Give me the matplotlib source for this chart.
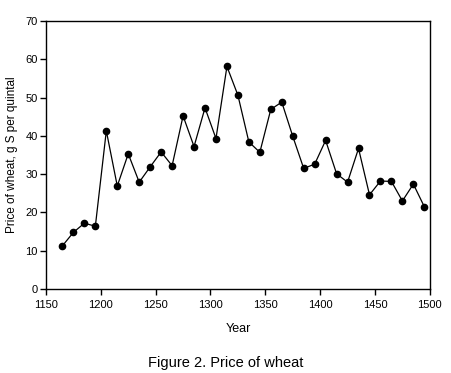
import matplotlib
matplotlib.use("Agg")
import matplotlib.pyplot as plt

# Year midpoints and price of wheat (g S per quintal)
years = [1165, 1175, 1185, 1195, 1205, 1215, 1225, 1235, 1245, 1255,
         1265, 1275, 1285, 1295, 1305, 1315, 1325, 1335, 1345, 1355,
         1365, 1375, 1385, 1395, 1405, 1415, 1425, 1435, 1445, 1455,
         1465, 1475, 1485, 1495]
prices = [11.3, 14.8, 17.2, 16.4, 41.3, 26.9, 35.3, 27.9, 31.9, 35.8,
          32.2, 45.2, 37.2, 47.3, 39.3, 58.1, 50.6, 38.4, 35.7, 46.9,
          48.8, 39.9, 31.5, 32.6, 38.8, 30.1, 27.9, 36.7, 24.6, 28.2,
          28.1, 23.0, 27.4, 21.5]

x_ticks = [1150, 1200, 1250, 1300, 1350, 1400, 1450, 1500]
y_ticks = [0, 10, 20, 30, 40, 50, 60, 70]

plt.rcParams['font.family'] = ['Liberation Sans', 'DejaVu Sans']

fig = plt.figure(figsize=(4.51, 3.73), dpi=100)
ax = fig.add_axes([0.102, 0.225, 0.851, 0.719])

ax.plot(years, prices, color='black', linewidth=0.9, marker='o',
        markersize=4.5, markerfacecolor='black', markeredgecolor='black')

ax.set_xlim(1150, 1500)
ax.set_ylim(0, 70)
ax.set_xticks(x_ticks)
ax.set_yticks(y_ticks)
ax.tick_params(direction='out', length=4, width=1, labelsize=8,
               top=False, right=False)
ax.tick_params(axis='x', pad=4)
ax.tick_params(axis='y', pad=2)
for sp in ax.spines.values():
    sp.set_linewidth(1)

ax.set_xlabel('Year', fontsize=9, labelpad=9)
ax.set_ylabel('Price of wheat, g S per quintal', fontsize=8.5, labelpad=5)

fig.text(0.5, 0.027, 'Figure 2. Price of wheat', ha='center', va='center',
         fontsize=10.5)

fig.savefig('out.png', dpi=100)
